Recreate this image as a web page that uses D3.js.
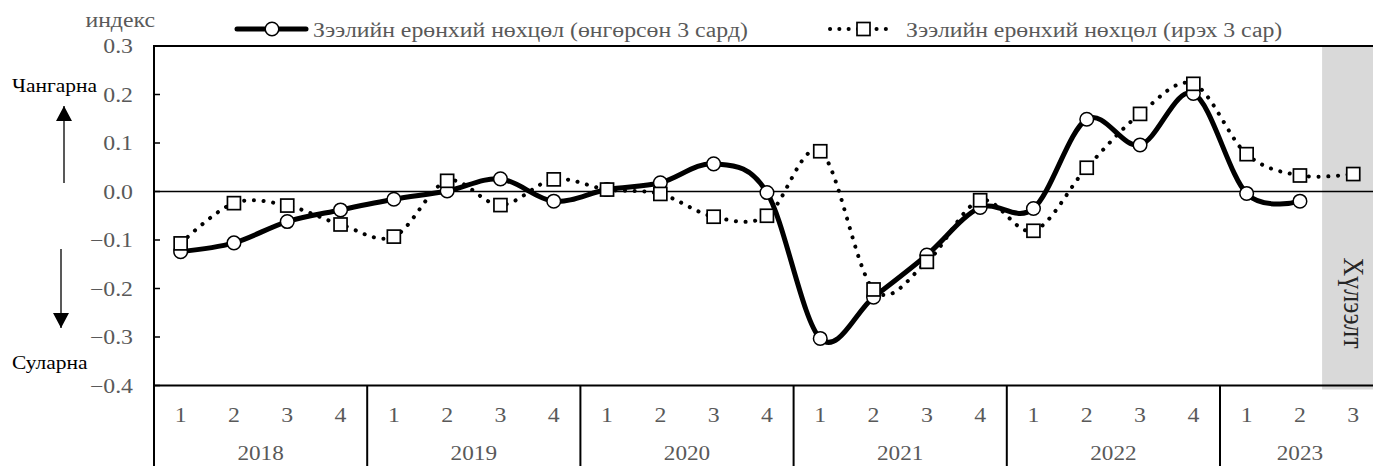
<!DOCTYPE html>
<html>
<head>
<meta charset="utf-8">
<script src="https://cdn.jsdelivr.net/npm/d3@7"></script>
<style>
  body { margin: 0; background: #fff; }
  svg { display: block; }
  text { font-family: "Liberation Serif", "Times New Roman", serif; }
</style>
</head>
<body>
<svg id="svg" width="1373" height="466"></svg>
<script>
// DATA
var years = ["2018", "2019", "2020", "2021", "2022", "2023"];
var quarters = ["1", "2", "3", "4", "1", "2", "3", "4", "1", "2", "3", "4",
  "1", "2", "3", "4", "1", "2", "3", "4", "1", "2", "3"];
var yearOf = ["2018", "2018", "2018", "2018", "2019", "2019", "2019", "2019",
  "2020", "2020", "2020", "2020", "2021", "2021", "2021", "2021",
  "2022", "2022", "2022", "2022", "2023", "2023", "2023"];
// өнгөрсөн 3 сард (solid)
var past = [-0.124, -0.106, -0.062, -0.038, -0.016, 0.001, 0.026, -0.020,
  0.004, 0.018, 0.057, -0.002, -0.303, -0.218, -0.131, -0.033,
  -0.035, 0.149, 0.096, 0.202, -0.004, -0.020, null];
// ирэх 3 сар (dotted)
var next = [-0.107, -0.024, -0.029, -0.068, -0.093, 0.022, -0.028, 0.025,
  0.004, -0.005, -0.052, -0.050, 0.083, -0.202, -0.145, -0.018,
  -0.081, 0.049, 0.160, 0.222, 0.077, 0.033, 0.036];
var yTicks = [0.3, 0.2, 0.1, 0.0, -0.1, -0.2, -0.3, -0.4];
var forecastIdx = [22];
var legendLabels = ["Зээлийн ерөнхий нөхцөл (өнгөрсөн 3 сард)", "Зээлийн ерөнхий нөхцөл (ирэх 3 сар)"];

// SETUP
var svg = d3.select("#svg");
var SX = 1.16; // horizontal stretch of the source picture's text
var gray = "#595959";

var x = d3.scaleBand()
  .domain(d3.range(quarters.length))
  .range([154, 154 + 23 * 53.3])
  .padding(0);
var cx = function (i) { return x(i) + x.bandwidth() / 2; };

var y = d3.scaleLinear()
  .domain([-0.4, 0.3])
  .range([385.5, 46]);

function stext(sel, px, py, size, anchor, color) {
  return sel.append("text")
    .attr("transform", "translate(" + px + "," + py + ") scale(" + SX + ",1)")
    .attr("text-anchor", anchor)
    .attr("font-size", size)
    .attr("fill", color);
}

// forecast shade
svg.selectAll(".shade")
  .data(forecastIdx)
  .enter().append("rect")
  .attr("x", function (d) { return x(d) - 4.5; })
  .attr("y", y(0.3) + 1)
  .attr("width", x.bandwidth() + 10)
  .attr("height", y(-0.4) - y(0.3) + 3)
  .attr("fill", "#d9d9d9");

stext(svg, 0, 0, 26, "middle", "#262626")
  .attr("transform", "translate(" + (cx(22) - 9) + "," + (y(-0.23)) + ") rotate(90) scale(1,1.1)")
  .text("Хүлээлт");

// frame lines
svg.append("line").attr("x1", 154).attr("x2", 1373)
  .attr("y1", y(0.3)).attr("y2", y(0.3))
  .attr("stroke", "#000").attr("stroke-width", 2);
svg.append("line").attr("x1", 154).attr("x2", 1373)
  .attr("y1", y(-0.4)).attr("y2", y(-0.4))
  .attr("stroke", "#000").attr("stroke-width", 2);
svg.append("line").attr("x1", 154).attr("x2", 1373)
  .attr("y1", y(0)).attr("y2", y(0))
  .attr("stroke", "#000").attr("stroke-width", 1.5);
svg.append("line").attr("x1", 154).attr("x2", 154)
  .attr("y1", y(0.3) - 1).attr("y2", 466)
  .attr("stroke", "#000").attr("stroke-width", 2);

// y axis ticks + labels
svg.selectAll(".ytick")
  .data(yTicks)
  .enter().append("line")
  .attr("x1", 154).attr("x2", 160)
  .attr("y1", function (d) { return y(d); })
  .attr("y2", function (d) { return y(d); })
  .attr("stroke", "#000").attr("stroke-width", 1.5);
yTicks.forEach(function (t) {
  stext(svg, 133, y(t) + 7, 20.5, "end", gray).text(d3.format(".1f")(t));
});
stext(svg, 155, 27, 20.5, "end", gray).text("индекс");

// x axis: quarters and years
quarters.forEach(function (q, i) {
  stext(svg, cx(i), 422, 20.5, "middle", gray).text(q);
});
years.forEach(function (yr) {
  var idx = d3.range(yearOf.length).filter(function (i) { return yearOf[i] === yr; });
  var mid = (x(idx[0]) + x(idx[idx.length - 1]) + x.bandwidth()) / 2;
  stext(svg, mid, 460, 20, "middle", gray).text(yr);
  if (idx[0] > 0) {
    svg.append("line").attr("x1", x(idx[0])).attr("x2", x(idx[0]))
      .attr("y1", y(-0.4)).attr("y2", 466)
      .attr("stroke", "#000").attr("stroke-width", 2);
  }
});

// side notes with arrows
svg.append("defs").append("marker")
  .attr("id", "head").attr("viewBox", "0 0 15 16")
  .attr("refX", 15).attr("refY", 8)
  .attr("markerWidth", 15).attr("markerHeight", 16)
  .attr("markerUnits", "userSpaceOnUse")
  .attr("orient", "auto")
  .append("path").attr("d", "M0,0 L15,8 L0,16 Z").attr("fill", "#000");
svg.append("line").attr("x1", 64).attr("x2", 64).attr("y1", 183).attr("y2", 106)
  .attr("stroke", "#222").attr("stroke-width", 1.5).attr("marker-end", "url(#head)");
svg.append("line").attr("x1", 61).attr("x2", 61).attr("y1", 249).attr("y2", 328)
  .attr("stroke", "#222").attr("stroke-width", 1.5).attr("marker-end", "url(#head)");
stext(svg, 12, 92, 18.5, "start", "#000").text("Чангарна");
stext(svg, 12, 369, 18.5, "start", "#000").text("Суларна");

// LINES
var line = d3.line()
  .defined(function (d) { return d != null; })
  .x(function (d, i) { return cx(i); })
  .y(function (d) { return y(d); })
  .curve(d3.curveCardinal.tension(0));

svg.append("path")
  .datum(past)
  .attr("fill", "none")
  .attr("stroke", "#000")
  .attr("stroke-width", 5)
  .attr("stroke-linejoin", "round")
  .attr("d", line);

svg.selectAll(".dot")
  .data(past.map(function (v, i) { return { v: v, i: i }; }).filter(function (d) { return d.v != null; }))
  .enter().append("circle")
  .attr("cx", function (d) { return cx(d.i); })
  .attr("cy", function (d) { return y(d.v); })
  .attr("r", 6.8)
  .attr("fill", "#fff").attr("stroke", "#000").attr("stroke-width", 1.5);

svg.append("path")
  .datum(next)
  .attr("fill", "none")
  .attr("stroke", "#000")
  .attr("stroke-width", 4)
  .attr("stroke-linecap", "round")
  .attr("stroke-dasharray", "0.1 9.6")
  .attr("d", line);

svg.selectAll(".sq")
  .data(next.map(function (v, i) { return { v: v, i: i }; }))
  .enter().append("rect")
  .attr("x", function (d) { return cx(d.i) - 6.5; })
  .attr("y", function (d) { return y(d.v) - 6.5; })
  .attr("width", 13).attr("height", 13)
  .attr("fill", "#fff").attr("stroke", "#000").attr("stroke-width", 1.7);

// LEGEND
var lg = svg.append("g");
lg.append("line").attr("x1", 237).attr("x2", 306).attr("y1", 29).attr("y2", 29)
  .attr("stroke", "#000").attr("stroke-width", 5).attr("stroke-linecap", "round");
lg.append("circle").attr("cx", 272).attr("cy", 29).attr("r", 6.8)
  .attr("fill", "#fff").attr("stroke", "#000").attr("stroke-width", 1.5);
stext(lg, 313, 37, 20.5, "start", gray).text(legendLabels[0]);

lg.append("line").attr("x1", 830).attr("x2", 891).attr("y1", 29).attr("y2", 29)
  .attr("stroke", "#000").attr("stroke-width", 4).attr("stroke-linecap", "round")
  .attr("stroke-dasharray", "0.1 9.2");
lg.append("rect").attr("x", 857).attr("y", 22.5).attr("width", 13).attr("height", 13)
  .attr("fill", "#fff").attr("stroke", "#000").attr("stroke-width", 1.7);
stext(lg, 906, 37, 20.5, "start", gray).text(legendLabels[1]);
</script>
</body>
</html>
